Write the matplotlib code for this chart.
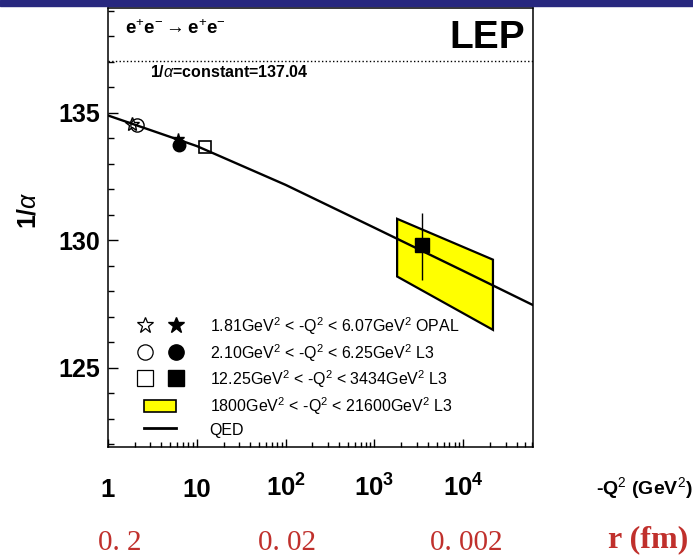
"""Running of the QED coupling measured at LEP (1/alpha versus -Q^2)."""

import matplotlib
matplotlib.use('Agg')
import matplotlib.pyplot as plt
from matplotlib.lines import Line2D
from matplotlib.patches import Patch, Rectangle
from matplotlib.legend_handler import HandlerTuple, HandlerPatch
from matplotlib.ticker import FixedLocator, LogLocator, NullFormatter, MultipleLocator


# QED curve
QED_Q2 = [1, 10, 100, 1000, 10000, 61000]
QED_INV_ALPHA = [134.89, 133.69, 132.17, 130.49, 128.80, 127.46]

# OPAL points (open / filled star)
OPAL_Q2 = [1.85, 6.07]
OPAL_INV_ALPHA = [134.56, 133.98]

# L3 small angle points (open / filled circle)
L3_LOW_Q2 = [2.10, 6.25]
L3_LOW_INV_ALPHA = [134.53, 133.73]

# L3 points (open / filled square)
L3_MID_Q2 = [12.25, 3434]
L3_MID_INV_ALPHA = [133.64, 129.82]
L3_MID_ERR_LOW = 128.45
L3_MID_ERR_HIGH = 131.08

# L3 high Q^2 band (yellow parallelogram)
BAND_Q2 = [1800, 21600]
BAND_TOP = [130.84, 129.24]
BAND_BOTTOM = [128.58, 126.49]

CONSTANT_INV_ALPHA = 137.04

X_TICKS = [1, 10, 100, 1000, 10000]
X_TICK_LABELS = ['1', '10', r'$\mathbf{10^{2}}$', r'$\mathbf{10^{3}}$',
                 r'$\mathbf{10^{4}}$']
Y_TICKS = [125, 130, 135]

# distance scale printed under the Q^2 axis
R_LABELS = ['0. 2', '0. 02', '0. 002']
R_Q2 = [1.35, 104, 10700]

LEGEND_LABELS = [
    r'1.81GeV$^{2}$ < -Q$^{2}$ < 6.07GeV$^{2}$ OPAL',
    r'2.10GeV$^{2}$ < -Q$^{2}$ < 6.25GeV$^{2}$ L3',
    r'12.25GeV$^{2}$ < -Q$^{2}$ < 3434GeV$^{2}$ L3',
    r'1800GeV$^{2}$ < -Q$^{2}$ < 21600GeV$^{2}$ L3',
    'QED',
]

_RED = '#c0302c'
_NAVY = '#28287f'


def _main():
    plt.rcParams['font.family'] = ['Liberation Sans', 'DejaVu Sans']
    plt.rcParams['mathtext.fontset'] = 'custom'
    plt.rcParams['mathtext.rm'] = 'Liberation Sans'
    plt.rcParams['mathtext.it'] = 'Liberation Sans:italic'
    plt.rcParams['mathtext.bf'] = 'Liberation Sans:bold'

    fig = plt.figure(figsize=(6.93, 5.55), dpi=100)
    fig.patches.append(Rectangle((0, 1 - 6 / 555), 1, 6 / 555,
                                 transform=fig.transFigure, color=_NAVY))
    ax = fig.add_axes([108 / 693, 1 - 447 / 555, 425 / 693, 439 / 555])

    _plot_data(ax)
    _style_axes(ax)
    _add_legend(ax)
    _add_texts(ax)

    fig.savefig('out.png', dpi=100)


def _plot_data(ax):
    ax.axhline(CONSTANT_INV_ALPHA, color='k', ls=':', lw=1.0)

    # yellow band
    xs = BAND_Q2 + BAND_Q2[::-1]
    ys = BAND_TOP + BAND_BOTTOM[::-1]
    ax.fill(xs, ys, facecolor='#ffff00', edgecolor='k', lw=1.6, zorder=2)

    # QED prediction
    ax.plot(QED_Q2, QED_INV_ALPHA, color='k', lw=1.7, zorder=3)

    # open markers
    ax.plot(OPAL_Q2[0], OPAL_INV_ALPHA[0], '*', ms=10, mfc='none', mec='k',
            mew=1.0, zorder=4)
    ax.plot(L3_LOW_Q2[0], L3_LOW_INV_ALPHA[0], 'o', ms=9.5, mfc='none',
            mec='k', mew=1.0, zorder=4)
    ax.plot(L3_MID_Q2[0], L3_MID_INV_ALPHA[0], 's', ms=9, mfc='none',
            mec='k', mew=1.2, zorder=4)

    # filled markers
    ax.plot(OPAL_Q2[1], OPAL_INV_ALPHA[1], '*', ms=9, color='k', zorder=4)
    ax.plot(L3_LOW_Q2[1], L3_LOW_INV_ALPHA[1], 'o', ms=9, color='k', zorder=5)
    ax.vlines(L3_MID_Q2[1], L3_MID_ERR_LOW, L3_MID_ERR_HIGH, color='k',
              lw=1.0, zorder=4)
    ax.plot(L3_MID_Q2[1], L3_MID_INV_ALPHA[1], 's', ms=9.5, color='k',
            zorder=5)


def _style_axes(ax):
    ax.set_xscale('log')
    ax.set_xlim(1, 61000)
    ax.set_ylim(121.9, 139.1)

    ax.xaxis.set_major_locator(FixedLocator(X_TICKS))
    ax.xaxis.set_minor_locator(LogLocator(base=10, subs=range(2, 10),
                                          numticks=20))
    ax.xaxis.set_minor_formatter(NullFormatter())
    ax.set_xticks(X_TICKS)
    ax.set_xticklabels(X_TICK_LABELS)

    ax.set_yticks(Y_TICKS)
    ax.yaxis.set_minor_locator(MultipleLocator(1))

    ax.tick_params(axis='both', which='both', direction='in',
                   top=False, right=False, width=1.0)
    ax.tick_params(axis='x', which='major', length=6, pad=36,
                   labelsize=18.5)
    ax.tick_params(axis='x', which='minor', length=3.5)
    ax.tick_params(axis='y', which='major', length=7, pad=6, labelsize=18)
    ax.tick_params(axis='y', which='minor', length=4)

    for label in ax.get_xticklabels() + ax.get_yticklabels():
        label.set_fontweight('bold')
    for label in ax.get_xticklabels():
        label.set_verticalalignment('baseline')

    for spine in ax.spines.values():
        spine.set_linewidth(1.1)

    ax.set_ylabel(r'1/$\alpha$', fontsize=18, fontweight='bold')
    ax.yaxis.set_label_coords(-0.158, 0.54)
    ax.set_xlabel(r'-Q$^{2}$ (GeV$^{2}$)', fontsize=14, fontweight='bold')
    ax.xaxis.set_label_coords(1.262, -0.064)


def _small_box(legend, orig_handle, xdescent, ydescent, width, height,
               fontsize):
    h = 0.7 * height
    return Rectangle((-xdescent, -ydescent + (height - h) / 2), width, h)


def _add_legend(ax):
    star = (Line2D([], [], marker='*', ls='none', ms=12, mfc='none', mec='k',
                   mew=0.9),
            Line2D([], [], marker='*', ls='none', ms=12, color='k'))
    circle = (Line2D([], [], marker='o', ls='none', ms=11, mfc='none',
                     mec='k', mew=0.9),
              Line2D([], [], marker='o', ls='none', ms=11, color='k'))
    square = (Line2D([], [], marker='s', ls='none', ms=11, mfc='none',
                     mec='k', mew=0.9),
              Line2D([], [], marker='s', ls='none', ms=11, color='k'))
    band = Patch(facecolor='#ffff00', edgecolor='k', lw=1.2)
    qed = Line2D([], [], color='k', lw=2.0)

    ax.legend([star, circle, square, band, qed], LEGEND_LABELS,
              handler_map={tuple: HandlerTuple(ndivide=None, pad=1.9),
                           Patch: HandlerPatch(patch_func=_small_box)},
              loc='lower left', bbox_to_anchor=(0.085, 0.02),
              borderaxespad=0, borderpad=0, frameon=False, fontsize=11.5,
              handlelength=2.0, handleheight=1.25, handletextpad=2.1,
              labelspacing=0.3)


def _add_texts(ax):
    ax.text(0.04, 0.952, r'e$^{+}$e$^{-}$$\rightarrow$e$^{+}$e$^{-}$',
            transform=ax.transAxes, fontsize=13.5, fontweight='bold',
            va='center', ha='left')
    ax.text(0.982, 0.932, 'LEP', transform=ax.transAxes, fontsize=28,
            fontweight='bold', va='center', ha='right')
    ax.text(0.099, 0.854, r'1/$\alpha$=constant=137.04',
            transform=ax.transAxes, fontsize=11.5, fontweight='bold',
            va='center', ha='left')

    trans = ax.get_xaxis_transform()
    for label, q2 in zip(R_LABELS, R_Q2):
        ax.text(q2, -0.218, label, transform=trans, ha='center', va='center',
                fontsize=21, color=_RED, family='Liberation Serif',
                clip_on=False)
    ax.text(1.27, -0.212, 'r (fm)', transform=ax.transAxes, ha='center',
            va='center', fontsize=23, fontweight='bold', color=_RED,
            family='Liberation Serif')


if __name__ == '__main__':
    _main()
